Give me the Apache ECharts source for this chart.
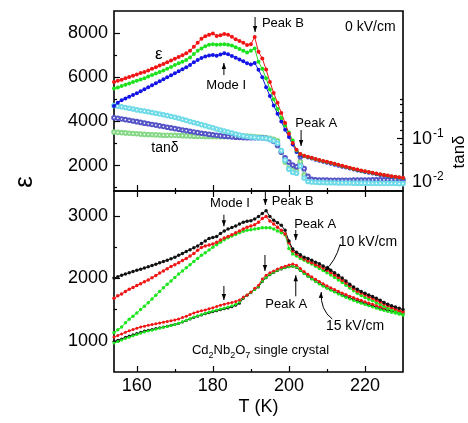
<!DOCTYPE html>
<html>
<head>
<meta charset="utf-8">
<script src="https://cdn.jsdelivr.net/npm/echarts@6/dist/echarts.min.js"></script>
<style>
  html, body { margin: 0; padding: 0; background: #fff; }
  #chart { width: 468px; height: 423px; }
</style>
</head>
<body>
<div id="chart"></div>
<script>
// Temperature grid (K)
const temperature = [154,155,156,157,158,159,160,161,162,163,164,165,166,167,168,169,170,171,172,173,174,175,176,177,178,179,180,181,182,183,184,185,186,187,188,189,190,191,192,193,194,195,196,197,198,199,200,201,202,203,204,205,206,207,208,209,210,211,212,213,214,215,216,217,218,219,220,221,222,223,224,225,226,227,228,229,230];

// 0 kV/cm: permittivity, three frequencies
const eps0Red = [5790,5840,5890,5950,6010,6070,6130,6190,6240,6310,6380,6450,6530,6600,6680,6760,6840,6920,7000,7090,7200,7380,7560,7740,7860,7930,7980,7870,7900,7960,7920,7830,7720,7640,7560,7460,7500,7820,7150,6850,6350,5790,5290,4850,4380,3930,3440,3020,2720,2520,2450,2400,2350,2300,2255,2210,2170,2125,2080,2035,1990,1950,1905,1860,1820,1780,1745,1710,1675,1640,1610,1580,1550,1520,1495,1470,1445];
const eps0Green = [5490,5540,5600,5660,5720,5780,5840,5900,5960,6030,6100,6170,6240,6310,6390,6470,6550,6630,6700,6780,6900,7050,7200,7300,7400,7470,7500,7470,7480,7490,7470,7440,7360,7280,7200,7120,7200,7300,6700,6380,5950,5450,5000,4560,4150,3820,3500,3140,2680,2510,2440,2390,2340,2290,2245,2200,2160,2115,2070,2025,1980,1940,1895,1850,1810,1770,1735,1700,1665,1630,1600,1570,1540,1510,1485,1460,1435];
const eps0Blue = [4700,4850,4960,5040,5120,5200,5280,5370,5460,5550,5640,5730,5820,5910,6000,6090,6180,6270,6360,6450,6560,6680,6780,6870,6940,6990,7010,6970,7030,7090,7040,6960,6880,6800,6720,6630,6580,6650,6340,6000,5550,5150,4720,4350,4000,3620,3290,2950,2620,2470,2420,2370,2320,2270,2220,2175,2130,2085,2040,1995,1950,1910,1865,1820,1780,1745,1710,1675,1640,1610,1580,1550,1520,1495,1470,1445,1420];

// 0 kV/cm: loss tangent
const tanCyan = [0.57,0.55,0.53,0.51,0.49,0.47,0.45,0.435,0.42,0.405,0.39,0.375,0.36,0.345,0.33,0.315,0.30,0.285,0.27,0.255,0.24,0.227,0.215,0.203,0.192,0.181,0.171,0.161,0.152,0.144,0.136,0.129,0.122,0.116,0.111,0.107,0.104,0.102,0.1,0.099,0.097,0.093,0.085,0.074,0.05,0.03,0.0185,0.0155,0.0148,0.022,0.0115,0.0095,0.0092,0.0091,0.009,0.009,0.0089,0.0089,0.0089,0.0088,0.0088,0.0088,0.0088,0.0087,0.0087,0.0087,0.0087,0.0087,0.0086,0.0086,0.0086,0.0086,0.0086,0.0086,0.0086,0.0085,0.0085];
const tanNavy = [0.295,0.285,0.275,0.265,0.256,0.247,0.238,0.229,0.22,0.212,0.205,0.198,0.19,0.183,0.176,0.17,0.164,0.158,0.152,0.147,0.142,0.137,0.132,0.128,0.124,0.12,0.117,0.114,0.111,0.109,0.107,0.105,0.103,0.102,0.101,0.1,0.1,0.1,0.1,0.1,0.097,0.091,0.082,0.066,0.046,0.034,0.027,0.023,0.021,0.036,0.019,0.0125,0.0107,0.0104,0.0103,0.0103,0.0103,0.0102,0.0102,0.0102,0.0102,0.0102,0.0102,0.0103,0.0103,0.0103,0.0103,0.0103,0.0104,0.0104,0.0104,0.0104,0.0104,0.0105,0.0105,0.0105,0.0105];
const tanGreen = [0.136,0.134,0.132,0.13,0.128,0.126,0.124,0.122,0.12,0.119,0.118,0.117,0.116,0.115,0.115,0.114,0.114,0.113,0.112,0.111,0.11,0.109,0.108,0.108,0.107,0.107,0.106,0.106,0.106,0.106,0.107,0.108,0.109,0.11,0.11,0.11,0.108,0.106,0.104,0.102,0.1,0.097,0.092,0.085,0.048,0.027,0.0195,0.0178,0.017,0.028,0.0135,0.0099,0.0095,0.0094,0.0093,0.0093,0.0092,0.0092,0.0092,0.0091,0.0091,0.0091,0.0091,0.0091,0.009,0.009,0.009,0.009,0.009,0.009,0.009,0.009,0.0089,0.0089,0.0089,0.0089,0.0089];

// 10 kV/cm
const eps10Black = [2005,2028,2050,2070,2090,2110,2130,2148,2165,2185,2205,2228,2250,2270,2290,2315,2340,2370,2400,2430,2460,2490,2520,2560,2600,2640,2655,2670,2720,2760,2790,2815,2840,2870,2900,2915,2925,2950,2990,3040,3085,2990,2930,2890,2850,2770,2600,2470,2420,2380,2340,2320,2290,2260,2235,2200,2165,2130,2090,2050,2005,1960,1905,1860,1825,1790,1760,1735,1710,1680,1650,1615,1585,1560,1540,1520,1500];
const eps10Red = [1680,1720,1750,1790,1825,1855,1885,1915,1945,1975,2010,2045,2085,2120,2155,2190,2220,2250,2285,2320,2360,2400,2450,2495,2520,2535,2550,2580,2615,2645,2670,2700,2730,2760,2790,2820,2840,2860,2900,2960,2990,2920,2870,2820,2770,2710,2570,2440,2390,2350,2310,2280,2250,2220,2195,2165,2130,2095,2055,2015,1970,1925,1880,1835,1795,1765,1735,1705,1680,1650,1620,1590,1560,1535,1510,1485,1465];
const eps10Green = [1130,1175,1220,1290,1345,1395,1445,1500,1555,1610,1670,1730,1790,1850,1905,1960,2015,2070,2120,2170,2220,2270,2320,2370,2410,2455,2500,2540,2580,2620,2650,2680,2705,2730,2755,2770,2780,2790,2800,2810,2810,2810,2790,2760,2730,2700,2480,2390,2360,2320,2290,2260,2230,2195,2160,2125,2090,2055,2015,1975,1935,1890,1845,1800,1760,1725,1695,1665,1640,1610,1580,1550,1520,1495,1470,1450,1430];

// 15 kV/cm
const eps15Red = [1060,1085,1110,1135,1160,1180,1200,1220,1235,1248,1260,1273,1285,1298,1310,1322,1335,1350,1372,1395,1420,1445,1465,1480,1495,1515,1530,1550,1570,1585,1600,1615,1630,1655,1700,1735,1780,1840,1890,1990,2050,2090,2120,2150,2175,2195,2215,2232,2210,2160,2110,2065,2025,1985,1950,1915,1880,1850,1820,1795,1765,1740,1715,1695,1670,1650,1625,1605,1585,1565,1545,1530,1515,1500,1485,1470,1460];
const eps15Black = [990,1010,1030,1055,1075,1095,1115,1135,1155,1168,1181,1195,1208,1222,1235,1250,1262,1278,1300,1325,1350,1375,1395,1415,1432,1450,1466,1482,1498,1512,1527,1545,1570,1600,1680,1730,1770,1820,1862,1950,2010,2060,2095,2125,2150,2170,2185,2195,2175,2125,2080,2035,1995,1955,1920,1885,1850,1820,1790,1765,1735,1710,1685,1665,1640,1620,1600,1580,1560,1540,1520,1505,1490,1475,1460,1445,1435];
const eps15Green = [965,990,1012,1035,1058,1080,1100,1120,1140,1155,1170,1185,1200,1215,1230,1245,1260,1280,1305,1330,1355,1380,1400,1420,1440,1460,1478,1495,1510,1525,1540,1560,1585,1620,1690,1735,1775,1820,1870,1960,2020,2065,2100,2130,2155,2175,2190,2200,2180,2130,2080,2035,1990,1950,1910,1875,1840,1810,1780,1750,1720,1695,1670,1645,1620,1600,1580,1560,1540,1520,1500,1485,1470,1455,1440,1425,1410];

// Axis ticks
const xMajor = [160, 180, 200, 220];
const xMinor = [170, 190, 210];
const epsTopMajor = [2000, 4000, 6000, 8000];
const epsTopMinor = [1000, 3000, 5000, 7000];
const epsBottomMajor = [1000, 2000, 3000];
const epsBottomMinor = [1500, 2500];
const tanMajor = [0.01, 0.1];
const tanMinor = [0.025, 0.045, 0.07, 0.15, 0.25, 0.4, 0.6, 0.8];

const FONT = '"Liberation Sans", Arial, Helvetica, sans-serif';
const TICK_FONT = 18;
const chart = echarts.init(document.getElementById('chart'), null, { renderer: 'canvas' });

function pairs(values) { return temperature.map((t, i) => [t, values[i]]); }
const plain = v => String(v);

function xAxisDef(gridIndex, position, ticks, len, labels) {
  return {
    type: 'value', gridIndex, position, min: 154, max: 230,
    axisLine: { show: false }, splitLine: { show: false },
    axisTick: { show: true, inside: true, length: len, customValues: ticks, lineStyle: { color: '#000', width: 1.2 } },
    axisLabel: labels ? { customValues: labels, formatter: plain, color: '#000', fontSize: TICK_FONT, fontFamily: FONT, margin: 5 } : { show: false }
  };
}
function yAxisDef(gridIndex, opts) {
  return Object.assign({
    gridIndex, position: 'left', axisLine: { show: false }, splitLine: { show: false },
    axisTick: { show: true, inside: true, length: opts.len, customValues: opts.ticks, lineStyle: { color: '#000', width: 1.2 } },
    axisLabel: opts.labels ? { customValues: opts.labels, formatter: plain, color: '#000', fontSize: TICK_FONT, fontFamily: FONT, margin: 6 } : { show: false }
  }, opts.extra);
}

const xAxes = [
  xAxisDef(0, 'bottom', xMajor, 6, null),        // 0 top panel, major
  xAxisDef(0, 'bottom', xMinor, 3, null),        // 1 top panel, minor
  Object.assign(xAxisDef(1, 'bottom', xMajor, 6, xMajor), {
    name: 'T (K)', nameLocation: 'middle', nameGap: 26,
    nameTextStyle: { fontSize: 18, fontFamily: FONT, color: '#000' }
  }),                                             // 2 bottom panel
  xAxisDef(1, 'bottom', xMinor, 3, null),        // 3
  xAxisDef(1, 'top', xMajor, 6, null),           // 4
  xAxisDef(1, 'top', xMinor, 3, null),           // 5
  { type: 'value', gridIndex: 2, min: 154, max: 230, show: false } // 6 loss-tangent layer
];

const yAxes = [
  yAxisDef(0, { ticks: epsTopMajor, len: 6, labels: epsTopMajor, extra: { type: 'value', min: 850, max: 9000 } }),
  yAxisDef(0, { ticks: epsTopMinor, len: 3, extra: { type: 'value', min: 850, max: 9000 } }),
  yAxisDef(1, { ticks: epsBottomMajor, len: 6, labels: epsBottomMajor, extra: { type: 'value', min: 500, max: 3400 } }),
  yAxisDef(1, { ticks: epsBottomMinor, len: 3, extra: { type: 'value', min: 500, max: 3400 } }),
  {
    type: 'log', gridIndex: 2, position: 'right', min: 0.0057, max: 1,
    axisLine: { show: false }, splitLine: { show: false },
    axisTick: { show: true, inside: true, length: 6, customValues: tanMajor, lineStyle: { color: '#000', width: 1.2 } },
    axisLabel: {
      customValues: tanMajor, margin: 9,
      formatter: v => '{b|10}{s|' + Math.round(Math.log10(v)) + '}',
      rich: {
        b: { fontSize: TICK_FONT, fontFamily: FONT, color: '#000', verticalAlign: 'bottom' },
        s: { fontSize: 12, fontFamily: FONT, color: '#000', verticalAlign: 'top', padding: [0, 0, 8, 1] }
      }
    }
  },
  {
    type: 'log', gridIndex: 2, position: 'right', min: 0.0057, max: 1,
    axisLine: { show: false }, splitLine: { show: false },
    axisTick: { show: true, inside: true, length: 3, customValues: tanMinor, lineStyle: { color: '#000', width: 1.2 } },
    axisLabel: { show: false }
  }
];

function dotted(name, values, color, xi, yi, size) {
  return {
    name, type: 'line', xAxisIndex: xi, yAxisIndex: yi, data: pairs(values),
    symbol: 'circle', symbolSize: size, itemStyle: { color },
    lineStyle: { color, width: 1 }, z: 5, silent: true
  };
}
function hollow(name, values, color) {
  return {
    name, type: 'line', xAxisIndex: 6, yAxisIndex: 4, data: pairs(values),
    symbol: 'emptyCircle', symbolSize: 3.6, itemStyle: { color, borderWidth: 0.8 },
    lineStyle: { color, width: 0.8 }, z: 3, silent: true
  };
}

const series = [
  hollow('tanδ green', tanGreen, '#86d886'),
  hollow('tanδ blue', tanNavy, '#5555c8'),
  hollow('tanδ cyan', tanCyan, '#6fdbe8'),
  dotted('ε blue', eps0Blue, '#1414e6', 0, 0, 4),
  dotted('ε green', eps0Green, '#1ee11e', 0, 0, 4),
  dotted('ε red', eps0Red, '#f01414', 0, 0, 4),
  dotted('15 black', eps15Black, '#111111', 2, 2, 3),
  dotted('15 green', eps15Green, '#1ee61e', 2, 2, 3),
  dotted('15 red', eps15Red, '#f01414', 2, 2, 3),
  dotted('10 green', eps10Green, '#1ee61e', 2, 2, 3.5),
  dotted('10 red', eps10Red, '#f01414', 2, 2, 3.5),
  dotted('10 black', eps10Black, '#111111', 2, 2, 3.5)
];

chart.setOption({
  animation: false,
  backgroundColor: '#fff',
  grid: [
    { left: 114, top: 11, width: 289, height: 180, show: true, borderColor: '#000', borderWidth: 1.6, backgroundColor: 'transparent' },
    { left: 114, top: 191, width: 289, height: 181, show: true, borderColor: '#000', borderWidth: 1.6, backgroundColor: 'transparent' },
    { left: 114, top: 95, width: 289, height: 96, show: false }
  ],
  xAxis: xAxes,
  yAxis: yAxes,
  series
});

// Annotations placed in data coordinates of each panel
function px(panel, t, v) {
  const finder = panel === 0 ? { xAxisIndex: 0, yAxisIndex: 0 } : { xAxisIndex: 2, yAxisIndex: 2 };
  return chart.convertToPixel(finder, [t, v]);
}
const elements = [];
function label(panel, t, v, text, size, align, rich) {
  const p = px(panel, t, v);
  elements.push({
    type: 'text', x: p[0], y: p[1], z: 10, silent: true,
    style: { text, fontSize: size, fontFamily: FONT, fill: '#000', align: align || 'center', verticalAlign: 'middle', rich }
  });
}
function head(tip, from) {
  const dx = tip[0] - from[0], dy = tip[1] - from[1];
  const L = Math.hypot(dx, dy) || 1, ux = dx / L, uy = dy / L;
  const len = 6, w = 2.2;
  const bx = tip[0] - ux * len, by = tip[1] - uy * len;
  elements.push({
    type: 'polygon', z: 10, silent: true,
    shape: { points: [tip, [bx - uy * w, by + ux * w], [bx + uy * w, by - ux * w]] },
    style: { fill: '#000' }
  });
}
function arrow(panel, t, v0, v1) {
  const a = px(panel, t, v0), b = px(panel, t, v1);
  elements.push({ type: 'line', z: 10, silent: true, shape: { x1: a[0], y1: a[1], x2: b[0], y2: b[1] }, style: { stroke: '#000', lineWidth: 1 } });
  head(b, a);
}
function curvedArrow(panel, from, ctrl, to) {
  const a = px(panel, from[0], from[1]), c = px(panel, ctrl[0], ctrl[1]), b = px(panel, to[0], to[1]);
  elements.push({
    type: 'bezierCurve', z: 10, silent: true,
    shape: { x1: a[0], y1: a[1], cpx1: c[0], cpy1: c[1], x2: b[0], y2: b[1] },
    style: { stroke: '#000', lineWidth: 1, fill: null }
  });
  head(b, c);
}

// upper panel, 0 kV/cm
label(0, 165.8, 7053, 'ε', 17);
label(0, 183.5, 5649, 'Mode I', 13);
arrow(0, 182.9, 6100, 6650);
label(0, 192.9, 8457, 'Peak B', 13, 'left');
arrow(0, 191.1, 8728, 8049);
label(0, 221.4, 8253, '0 kV/cm', 14);
label(0, 207.2, 3929, 'Peak A', 13);
arrow(0, 203.2, 3612, 2887);
label(0, 167.4, 2774, 'tanδ', 14);

// lower panel, 10 and 15 kV/cm
label(1, 184.5, 3208, 'Mode I', 13);
arrow(1, 182.9, 3020, 2834);
label(1, 195.5, 3235, 'Peak B', 13, 'left');
arrow(1, 193.8, 3390, 3176);
label(1, 206.9, 2860, 'Peak A', 13);
arrow(1, 201.8, 2775, 2615);
label(1, 220.8, 2575, '10 kV/cm', 14);
curvedArrow(1, [213.5, 2551], [212.2, 2263], [209.3, 2118]);
arrow(1, 182.9, 1878, 1654);
arrow(1, 193.7, 2375, 2118);
label(1, 199.3, 1578, 'Peak A', 13);
arrow(1, 201.8, 1713, 2050);
label(1, 217.4, 1237, '15 kV/cm', 14);
curvedArrow(1, [211.4, 1349], [208.2, 1494], [208.5, 1782]);
label(1, 174.5, 821, '{n|Cd}{u|2}{n|Nb}{u|2}{n|O}{u|7}{n| single crystal}', 13, 'left', {
  n: { fontSize: 13, fontFamily: FONT, fill: '#000', verticalAlign: 'top' },
  u: { fontSize: 9, fontFamily: FONT, fill: '#000', verticalAlign: 'bottom', padding: [8, 0, 0, 0] }
});

// axis titles
elements.push({
  type: 'text', x: 25, y: 182, rotation: Math.PI / 2, silent: true,
  style: { text: 'ε', fontSize: 26, fontFamily: FONT, fill: '#000', align: 'center', verticalAlign: 'middle' }
});
elements.push({
  type: 'text', x: 459, y: 152, rotation: Math.PI / 2, silent: true,
  style: { text: 'tanδ', fontSize: 17, fontFamily: FONT, fill: '#000', align: 'center', verticalAlign: 'middle' }
});

chart.setOption({ graphic: { elements } });
</script>
</body>
</html>
